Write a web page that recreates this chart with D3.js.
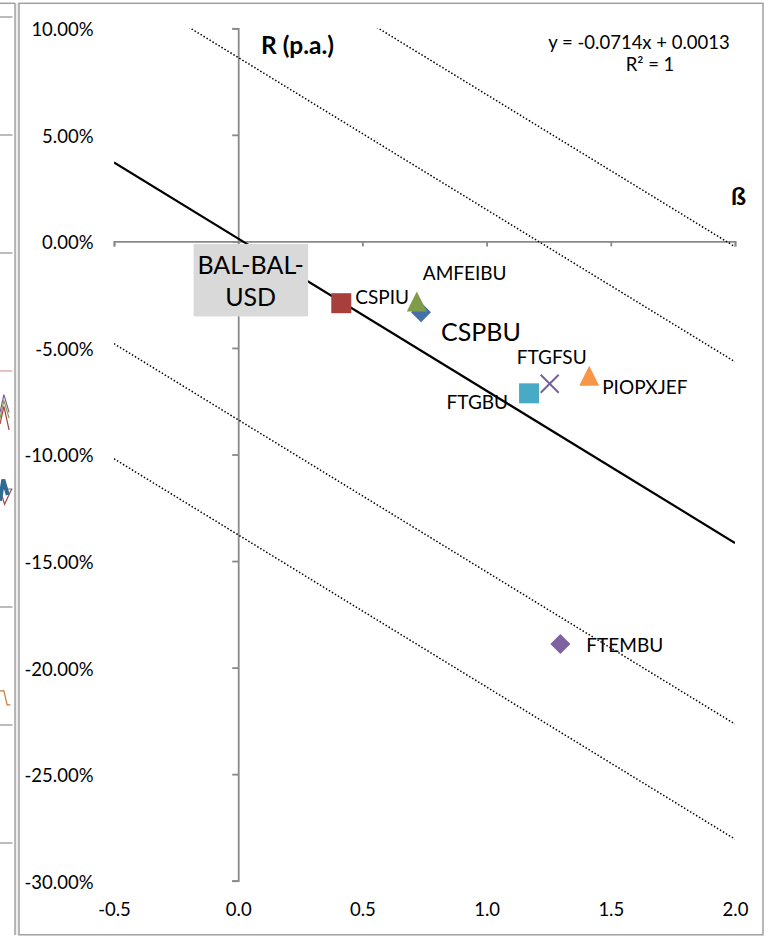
<!DOCTYPE html>
<html><head><meta charset="utf-8">
<script src="https://cdn.jsdelivr.net/npm/d3@7"></script>
<style>
body{margin:0;background:#fff;}
svg{display:block;font-family:Lato,'Open Sans',sans-serif;}
</style>
</head><body>
<svg id="c" width="769" height="937"></svg>
<script>
// ---------- DATA ----------
const names   = ["CSPBU","CSPIU","AMFEIBU","FTGBU","FTGFSU","PIOPXJEF","FTEMBU","BAL-BAL-USD"];
const betas   = [0.736, 0.415, 0.719, 1.171, 1.254, 1.413, 1.297, 0.05];
const returns = [-0.0332, -0.0290, -0.0282, -0.0713, -0.0668, -0.0631, -0.1889, 0.0000];
const trendSlope = -0.0714;
const trendIntercept = 0.0013;
const bandOffsets = [0.139, 0.085, -0.085, -0.139];
const xTicks = [-0.5, 0.0, 0.5, 1.0, 1.5, 2.0];
const yTicks = [0.10, 0.05, 0.00, -0.05, -0.10, -0.15, -0.20, -0.25, -0.30];
const equationText = "y = -0.0714x + 0.0013";
const r2Text = "R² = 1";
const yTitle = "R (p.a.)";
const xTitle = "ß";
// fragment of the neighbouring chart (clipped at the left edge)
const fragGrid = [0,1,2,3,4,5,6,7];
const fragSeries = [
  {color:"#7B5FA0", pts:[[0,3.35],[0.3,3.2],[0.7,3.35]]},
  {color:"#8AA04E", pts:[[0,3.4],[0.3,3.25],[0.7,3.4]]},
  {color:"#A84442", pts:[[0,3.45],[0.3,3.3],[0.7,3.5]]},
  {color:"#A84442", pts:[[0,4.0],[0.35,4.13],[0.9,4.0]]},
  {color:"#2E6A93", pts:[[0,4.1],[0.25,3.92],[0.6,4.05]], w:4},
  {color:"#C8783C", pts:[[0,5.71],[0.3,5.71],[0.55,5.83],[0.8,5.83]]}
];

// ---------- STYLE ----------
const fmt = d3.formatLocale({decimal:".",thousands:",",grouping:[3],currency:["$",""],minus:"-"});
const style = {
  "CSPBU":   {shape:"diamond", color:"#4571AA", dx:20, dy:20, anchor:"start", size:25},
  "CSPIU":   {shape:"square",  color:"#A93F3C", dx:14, dy:-6, anchor:"start", size:19},
  "AMFEIBU": {shape:"triangle",color:"#7F9C48", dx:6,  dy:-28, anchor:"start", size:19},
  "FTGBU":   {shape:"square",  color:"#48AAC4", dx:-21,dy:9,  anchor:"end", size:19},
  "FTGFSU":  {shape:"x",       color:"#7A5E9C", dx:2,  dy:-27, anchor:"middle", size:19},
  "PIOPXJEF":{shape:"triangle",color:"#F79646", dx:13, dy:11, anchor:"start", size:19},
  "FTEMBU":  {shape:"diamond", color:"#7E62A1", dx:26, dy:1,  anchor:"start", size:19},
  "BAL-BAL-USD":{shape:"none", color:"none", box:true, size:25}
};

const svg = d3.select("#c");
const W = 769, H = 937;
svg.append("rect").attr("width",W).attr("height",H).attr("fill","#fff");

// neighbouring chart fragment
const fragX = d3.scaleLinear().domain([0,1]).range([0,13]);
const fragY = d3.scaleLinear().domain([0,7]).range([17,843]);
svg.append("rect").attr("x",15).attr("y",3).attr("width",4).attr("height",932).attr("fill","#eeeeee");
svg.append("g").selectAll("line").data(fragGrid).join("line")
  .attr("x1",0).attr("x2",12.5).attr("y1",d=>fragY(d)).attr("y2",d=>fragY(d))
  .attr("stroke",d=>d===3?"#D8B0B0":"#A6A6A6").attr("stroke-width",1.5);
svg.append("g").selectAll("path").data(fragSeries).join("path")
  .attr("d",d=>d3.line().x(p=>fragX(p[0])).y(p=>fragY(p[1]))(d.pts))
  .attr("fill","none").attr("stroke",d=>d.color).attr("stroke-width",d=>d.w||1.2);
svg.append("line").attr("x1",15).attr("x2",15).attr("y1",3).attr("y2",935).attr("stroke","#A0A0A0").attr("stroke-width",1.5);
svg.append("line").attr("x1",0).attr("x2",15).attr("y1",3.3).attr("y2",3.3).attr("stroke","#A0A0A0").attr("stroke-width",1.5);

// main chart border
svg.append("rect").attr("x",19).attr("y",3.3).attr("width",744).attr("height",931.5)
  .attr("fill","#fff").attr("stroke","#A0A0A0").attr("stroke-width",1.5);

// scales
const x = d3.scaleLinear().domain([-0.5,2.0]).range([114,735]);
const y = d3.scaleLinear().domain([-0.30,0.10]).range([880.7,28.3]);

svg.append("clipPath").attr("id","plot").append("rect")
  .attr("x",x(-0.5)).attr("y",y(0.10)).attr("width",x(2)-x(-0.5)).attr("height",y(-0.30)-y(0.10));

const axisColor = "#898989";
// y axis line at x=0
const yAx = svg.append("g").attr("transform",`translate(${x(0)},0)`)
  .call(d3.axisLeft(y).tickValues(yTicks).tickSize(6).tickFormat(""));
// x axis line at y=0
const xAx = svg.append("g").attr("transform",`translate(0,${y(0)})`)
  .call(d3.axisBottom(x).tickValues(xTicks).tickSize(5).tickFormat(""));
[yAx,xAx].forEach(g=>{
  g.selectAll("path.domain").attr("stroke",axisColor).attr("stroke-width",1.8);
  g.selectAll(".tick line").attr("stroke",axisColor).attr("stroke-width",1.8);
});
// tick labels at low positions
const yLab = svg.append("g").attr("transform",`translate(${x(-0.5)},0)`)
  .call(d3.axisLeft(y).tickValues(yTicks).tickSize(0).tickPadding(20.5).tickFormat(fmt.format(".2%")));
const xLab = svg.append("g").attr("transform",`translate(0,${y(-0.30)})`)
  .call(d3.axisBottom(x).tickValues(xTicks).tickSize(0).tickFormat(fmt.format(".1f")));
[yLab,xLab].forEach(g=>{
  g.select("path.domain").remove();
  g.selectAll("text").attr("fill","#000").attr("font-size",18.5).attr("font-family","Lato");
});
yLab.selectAll("text").attr("dy","0.4em");
xLab.selectAll("text").attr("y",29).attr("dy","0.36em");

// dotted band lines + regression line
const plotG = svg.append("g").attr("clip-path","url(#plot)");
const lineFn = off => d3.line().x(d=>x(d)).y(d=>y(trendIntercept+off+trendSlope*d))([-0.5,2.0]);
plotG.selectAll("path.band").data(bandOffsets).join("path").attr("class","band")
  .attr("d",d=>lineFn(d)).attr("fill","none").attr("stroke","#000")
  .attr("stroke-width",1.5).attr("stroke-dasharray","1.5,2");
plotG.append("path").attr("d",lineFn(0)).attr("fill","none").attr("stroke","#000").attr("stroke-width",2.2);

// markers
const pts = names.map((n,i)=>({name:n,b:betas[i],r:returns[i],...style[n]}));
const mk = svg.append("g");
pts.forEach(p=>{
  const cx = x(p.b), cy = y(p.r), s = 10;
  if(p.shape==="square"){
    mk.append("rect").attr("x",cx-s).attr("y",cy-s).attr("width",2*s).attr("height",2*s).attr("fill",p.color);
  } else if(p.shape==="diamond"){
    mk.append("path").attr("d",`M${cx},${cy-s}L${cx+s},${cy}L${cx},${cy+s}L${cx-s},${cy}Z`).attr("fill",p.color);
  } else if(p.shape==="triangle"){
    mk.append("path").attr("d",`M${cx},${cy-s}L${cx+s},${cy+s}L${cx-s},${cy+s}Z`).attr("fill",p.color);
  } else if(p.shape==="x"){
    mk.append("path").attr("d",`M${cx-9},${cy-9}L${cx+9},${cy+9}M${cx+9},${cy-9}L${cx-9},${cy+9}`)
      .attr("stroke",p.color).attr("stroke-width",2).attr("fill","none");
  }
});

// data labels
const lab = svg.append("g").attr("font-family","Lato").attr("fill","#000");
pts.forEach(p=>{
  const cx = x(p.b), cy = y(p.r);
  if(p.box){
    lab.append("rect").attr("x",cx-57).attr("y",cy+2.5).attr("width",114.5).attr("height",72.5).attr("fill","#D9D9D9");
    lab.append("text").attr("x",cx).attr("y",cy+23.5).attr("dy","0.36em").attr("text-anchor","middle")
      .attr("font-size",p.size).text("BAL-BAL-");
    lab.append("text").attr("x",cx).attr("y",cy+56).attr("dy","0.36em").attr("text-anchor","middle")
      .attr("font-size",p.size).text("USD");
  } else {
    lab.append("text").attr("x",cx+p.dx).attr("y",cy+p.dy).attr("dy","0.36em")
      .attr("text-anchor",p.anchor).attr("font-size",p.size).text(p.name);
  }
});

// titles and equation
svg.append("text").attr("x",261).attr("y",45).attr("dy","0.36em").attr("font-weight","bold")
  .attr("font-size",24.5).attr("font-family","Lato").text(yTitle);
svg.append("text").attr("x",738.5).attr("y",196).attr("dy","0.36em").attr("text-anchor","middle").attr("font-weight","bold")
  .attr("font-size",25).attr("font-family","Lato").text(xTitle);
svg.append("text").attr("x",639).attr("y",42).attr("dy","0.36em").attr("text-anchor","middle")
  .attr("font-size",18.5).attr("font-family","Lato").text(equationText);
svg.append("text").attr("x",650).attr("y",64).attr("dy","0.36em").attr("text-anchor","middle")
  .attr("font-size",18.5).attr("font-family","Lato").text(r2Text);
</script>
</body></html>
